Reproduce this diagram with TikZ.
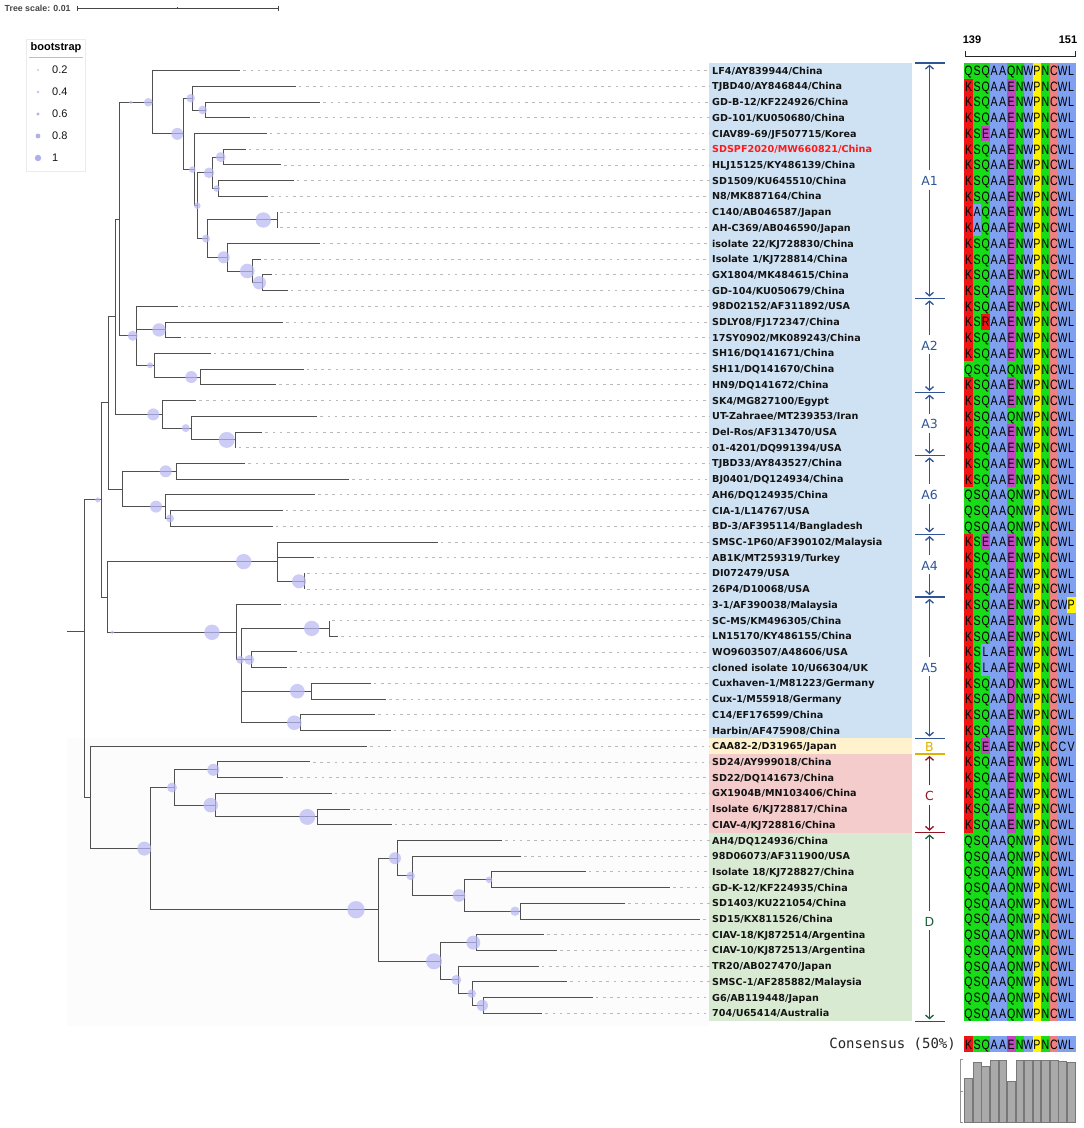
\documentclass[tikz,border=0pt]{standalone}
\usepackage{fontspec}
\setmainfont{Liberation Sans}
\newfontfamily\labfont{DejaVu Sans}
\newfontfamily\monofont{DejaVu Sans Mono}
\usetikzlibrary{arrows.meta}
\definecolor{brc}{RGB}{80,80,80}
\definecolor{dashc}{RGB}{185,185,185}
\definecolor{bootc}{RGB}{185,185,245}
\definecolor{legbc}{RGB}{175,175,235}
\definecolor{boxA}{RGB}{207,226,243}
\definecolor{boxB}{RGB}{255,242,204}
\definecolor{boxC}{RGB}{244,204,204}
\definecolor{boxD}{RGB}{217,234,211}
\definecolor{faintc}{RGB}{252,252,252}
\definecolor{cblue}{RGB}{47,85,151}
\definecolor{cgold}{RGB}{222,178,0}
\definecolor{cred}{RGB}{150,20,35}
\definecolor{cgreen}{RGB}{25,100,55}
\definecolor{labc}{RGB}{20,20,20}
\definecolor{redlab}{RGB}{255,25,25}
\definecolor{legline}{RGB}{190,190,190}
\definecolor{legbox}{RGB}{235,235,235}
\definecolor{scalec}{RGB}{70,70,70}
\definecolor{barf}{RGB}{170,170,170}
\definecolor{bard}{RGB}{120,120,120}
\definecolor{clrK}{RGB}{240,20,20}
\definecolor{clrR}{RGB}{240,20,20}
\definecolor{clrQ}{RGB}{25,220,25}
\definecolor{clrS}{RGB}{25,220,25}
\definecolor{clrN}{RGB}{25,220,25}
\definecolor{clrA}{RGB}{128,160,240}
\definecolor{clrL}{RGB}{128,160,240}
\definecolor{clrW}{RGB}{128,160,240}
\definecolor{clrV}{RGB}{128,160,240}
\definecolor{clrc}{RGB}{128,160,240}
\definecolor{clrE}{RGB}{192,72,192}
\definecolor{clrD}{RGB}{192,72,192}
\definecolor{clrP}{RGB}{255,245,0}
\definecolor{clrC}{RGB}{240,128,128}
\def\seqPa{Q,S,Q,A,A,Q,N,W,P,N,C,W,L}
\def\seqPb{K,S,Q,A,A,E,N,W,P,N,C,W,L}
\newcommand\ry[1]{70.7+(#1-1)*15.71}
\newcommand\leaf[4][labc]{%
  \coordinate (T#2) at (#3,{\ry{#2}});
  \node[lab,text=#1] (L#2) at (712,{\ry{#2}}) {#4};
  \draw[dashln] (T#2) -- (L#2.west);
}
\newcommand\edg[2]{\foreach \ee in {#2}{\draw[br] (#1) |- (\ee);}}
\newcommand\seqat[2]{%
  \edef\seqlist{#2}%
  \foreach \aach [count=\k] in \seqlist {%
    \fill[fill=clr\aach] ({964.3+(\k-1)*8.54},{#1-7.855}) rectangle ({964.3+\k*8.54+0.25},{#1+7.9});
    \node[aa] at ({964.3+(\k-0.5)*8.54},{#1}) {\scalebox{0.78}[1]{\expandafter\uppercase\expandafter{\aach}}};
  }}
\newcommand\cladearr[5]{%
  \node[cl,text=#1] (c#5) at (929.5,#4) {#5};
  \coordinate (ct#5) at (929.5,{#2+1.8});
  \coordinate (cb#5) at (929.5,{#3-1.8});
  \draw[#1,cladeln,shorten <=6pt,-{Straight Barb[length=3.5pt,width=8pt]}] (c#5.north) -- (ct#5);
  \draw[#1,cladeln,shorten <=4pt,-{Straight Barb[length=3.5pt,width=8pt]}] (c#5.south) -- (cb#5);
  \draw[#1,cladeln] (915,#3) -- (944.5,#3);
}
\begin{document}
\begin{tikzpicture}[x=1pt,y=-1pt,
  br/.style={draw=brc,line width=1pt},
  boot/.style={fill=bootc,fill opacity=0.72},
  dashln/.style={draw=dashc,line width=0.9pt,dash pattern=on 2.6pt off 4.6pt,shorten <=3pt,shorten >=2.5pt},
  lab/.style={anchor=west,inner sep=0pt,font=\labfont\bfseries\fontsize{9.6}{11}\selectfont,text height=8pt,text depth=1pt},
  aa/.style={inner sep=0pt,font=\fontsize{13.6}{14}\selectfont,text height=9.7pt,text depth=0pt},
  cl/.style={inner sep=0pt,font=\labfont\fontsize{12.5}{13}\selectfont,text height=9pt,text depth=0pt},
  cladeln/.style={line width=1.3pt},
]
\useasboundingbox (0,0) rectangle (1084,1128);
\fill[white] (0,0) rectangle (1084,1128);
% backgrounds
\fill[faintc] (67,738.4) rectangle (709.3,1026);
\fill[boxA] (709.3,62.85) rectangle (912,738.4);
\fill[boxB] (709.3,738.4) rectangle (912,754.1);
\fill[boxC] (709.3,754.1) rectangle (912,832.6);
\fill[boxD] (709.3,832.6) rectangle (912,1021.2);
% tree scale
\node[anchor=west,inner sep=0pt,text=scalec,font=\bfseries\fontsize{8.8}{9}\selectfont] (tsc) at (4.5,8) {Tree scale: 0.01};
\draw[scalec,line width=0.8pt] (77.7,8) -- (278.3,8);
\draw[scalec,line width=0.8pt] (77.7,5.5) -- (77.7,10.5) (278.3,5.5) -- (278.3,10.5) (177.7,7) -- (177.7,9);
% legend
\draw[draw=legbox,fill=white,line width=0.6pt] (26.7,39.3) rectangle (85,171.7);
\node[inner sep=0pt,font=\bfseries\fontsize{11}{12}\selectfont] (legt) at (56,48) {bootstrap};
\draw[legline,line width=1.3pt] (29,57.3) -- (83,57.3);
\foreach \v/\yy/\rr in {0.2/70/0.8,0.4/92/1.2,0.6/114/1.7,0.8/136/2.4,1/158/3.2}{
  \fill[legbc] (38,\yy) circle[radius=\rr];
  \node[anchor=west,inner sep=0pt,font=\fontsize{11}{12}\selectfont,text=labc] at (52,\yy) {\v};
}
% leaves
\leaf{1}{240.3}{LF4/AY839944/China}
\leaf{2}{295.7}{TJBD40/AY846844/China}
\leaf{3}{320.3}{GD-B-12/KF224926/China}
\leaf{4}{250.3}{GD-101/KU050680/China}
\leaf{5}{266.7}{CIAV89-69/JF507715/Korea}
\leaf[redlab]{6}{245.7}{SDSPF2020/MW660821/China}
\leaf{7}{281}{HLJ15125/KY486139/China}
\leaf{8}{293.7}{SD1509/KU645510/China}
\leaf{9}{268.3}{N8/MK887164/China}
\leaf{10}{277}{C140/AB046587/Japan}
\leaf{11}{277}{AH-C369/AB046590/Japan}
\leaf{12}{319.7}{isolate 22/KJ728830/China}
\leaf{13}{261}{Isolate 1/KJ728814/China}
\leaf{14}{271.7}{GX1804/MK484615/China}
\leaf{15}{287.7}{GD-104/KU050679/China}
\leaf{16}{178}{98D02152/AF311892/USA}
\leaf{17}{283.3}{SDLY08/FJ172347/China}
\leaf{18}{180.7}{17SY0902/MK089243/China}
\leaf{19}{210.7}{SH16/DQ141671/China}
\leaf{20}{303.7}{SH11/DQ141670/China}
\leaf{21}{276}{HN9/DQ141672/China}
\leaf{22}{196}{SK4/MG827100/Egypt}
\leaf{23}{317.3}{UT-Zahraee/MT239353/Iran}
\leaf{24}{262.3}{Del-Ros/AF313470/USA}
\leaf{25}{235.7}{01-4201/DQ991394/USA}
\leaf{26}{245.3}{TJBD33/AY843527/China}
\leaf{27}{349}{BJ0401/DQ124934/China}
\leaf{28}{315}{AH6/DQ124935/China}
\leaf{29}{282.7}{CIA-1/L14767/USA}
\leaf{30}{272.7}{BD-3/AF395114/Bangladesh}
\leaf{31}{437.7}{SMSC-1P60/AF390102/Malaysia}
\leaf{32}{314}{AB1K/MT259319/Turkey}
\leaf{33}{304.3}{DI072479/USA}
\leaf{34}{304.3}{26P4/D10068/USA}
\leaf{35}{281}{3-1/AF390038/Malaysia}
\leaf{36}{329.3}{SC-MS/KM496305/China}
\leaf{37}{338.3}{LN15170/KY486155/China}
\leaf{38}{296.7}{WO9603507/A48606/USA}
\leaf{39}{286.7}{cloned isolate 10/U66304/UK}
\leaf{40}{370.7}{Cuxhaven-1/M81223/Germany}
\leaf{41}{386}{Cux-1/M55918/Germany}
\leaf{42}{375.3}{C14/EF176599/China}
\leaf{43}{390.7}{Harbin/AF475908/China}
\leaf{44}{367.3}{CAA82-2/D31965/Japan}
\leaf{45}{310}{SD24/AY999018/China}
\leaf{46}{282.7}{SD22/DQ141673/China}
\leaf{47}{331.7}{GX1904B/MN103406/China}
\leaf{48}{350}{Isolate 6/KJ728817/China}
\leaf{49}{391.7}{CIAV-4/KJ728816/China}
\leaf{50}{502.3}{AH4/DQ124936/China}
\leaf{51}{521}{98D06073/AF311900/USA}
\leaf{52}{585.7}{Isolate 18/KJ728827/China}
\leaf{53}{670}{GD-K-12/KF224935/China}
\leaf{54}{625}{SD1403/KU221054/China}
\leaf{55}{700}{SD15/KX811526/China}
\leaf{56}{544}{CIAV-18/KJ872514/Argentina}
\leaf{57}{557}{CIAV-10/KJ872513/Argentina}
\leaf{58}{538.7}{TR20/AB027470/Japan}
\leaf{59}{567.3}{SMSC-1/AF285882/Malaysia}
\leaf{60}{592.7}{G6/AB119448/Japan}
\leaf{61}{542.3}{704/U65414/Australia}
% internal nodes
\coordinate (root) at (67.3,631);
\coordinate (n0) at (84.3,631);
\coordinate (nA) at (101,499.9);
\coordinate (nAx) at (108.3,402.9);
\coordinate (n123) at (115,316.7);
\coordinate (n12) at (119.3,219.05);
\coordinate (nA1) at (152.3,102.3);
\coordinate (nb) at (183.3,133.9);
\coordinate (nc) at (192.3,98.2);
\coordinate (nd) at (205.7,110);
\coordinate (nq) at (194,169.6);
\coordinate (nr) at (197.3,205.7);
\coordinate (ns) at (212.3,172.8);
\coordinate (ns1) at (223.3,157.1);
\coordinate (ns2) at (218.7,188.5);
\coordinate (nt) at (207.7,238.6);
\coordinate (nt1) at (277,219.95);
\coordinate (nt2) at (227.7,257.3);
\coordinate (nu) at (252.3,271);
\coordinate (nv) at (262,282.8);
\coordinate (nA2) at (136,335.8);
\coordinate (nw) at (165,329.9);
\coordinate (nx) at (154.3,365.3);
\coordinate (ny) at (200.7,377.05);
\coordinate (nA3) at (162.3,414.4);
\coordinate (nz) at (191.7,428.1);
\coordinate (nzz) at (235.7,439.9);
\coordinate (nA6) at (122,489);
\coordinate (n6a) at (176.7,471.3);
\coordinate (n6b) at (165,506.6);
\coordinate (n6c) at (170.7,518.4);
\coordinate (nA45) at (107,597);
\coordinate (nA4) at (277.7,561.6);
\coordinate (n4b) at (304.3,581.3);
\coordinate (nA5) at (236.3,632.3);
\coordinate (n5b) at (241.3,659.8);
\coordinate (n5c) at (329.3,628.4);
\coordinate (n5d) at (251.7,659.8);
\coordinate (n5e) at (311.7,691.2);
\coordinate (n5f) at (300.7,722.7);
\coordinate (nBCD) at (90.7,797.4);
\coordinate (nCD) at (150.7,848.6);
\coordinate (nC) at (174.3,787.5);
\coordinate (nC1) at (217.7,769.8);
\coordinate (nC2) at (215,805.1);
\coordinate (nC3) at (317.7,816.9);
\coordinate (nD) at (378.7,909.7);
\coordinate (nD1) at (397,858.2);
\coordinate (nD3) at (412.7,875.9);
\coordinate (nD4) at (464.3,895.5);
\coordinate (nD5) at (491.7,879.8);
\coordinate (nD6) at (520.3,911.2);
\coordinate (nD2) at (440.7,961.3);
\coordinate (nD7) at (476.7,942.6);
\coordinate (nD8) at (458.7,979.9);
\coordinate (nD9) at (472.7,993.6);
\coordinate (nD10) at (483.3,1005.4);
% edges
\draw[br] (root) -- (n0);
\edg{n0}{nA,nBCD}
\edg{nA}{nAx,nA45}
\edg{nAx}{n123,nA6}
\edg{n123}{n12,nA3}
\edg{n12}{nA1,nA2}
\edg{nA1}{T1,nb}
\edg{nb}{nc,nq}
\edg{nc}{T2,nd}
\edg{nd}{T3,T4}
\edg{nq}{T5,nr}
\edg{nr}{ns,nt}
\edg{ns}{ns1,ns2}
\edg{ns1}{T6,T7}
\edg{ns2}{T8,T9}
\edg{nt}{nt1,nt2}
\edg{nt1}{T10,T11}
\edg{nt2}{T12,nu}
\edg{nu}{T13,nv}
\edg{nv}{T14,T15}
\edg{nA2}{T16,nw,nx}
\edg{nw}{T17,T18}
\edg{nx}{T19,ny}
\edg{ny}{T20,T21}
\edg{nA3}{T22,nz}
\edg{nz}{T23,nzz}
\edg{nzz}{T24,T25}
\edg{nA6}{n6a,n6b}
\edg{n6a}{T26,T27}
\edg{n6b}{T28,n6c}
\edg{n6c}{T29,T30}
\edg{nA45}{nA4,nA5}
\edg{nA4}{T31,T32,n4b}
\edg{n4b}{T33,T34}
\edg{nA5}{T35,n5b}
\edg{n5b}{n5c,n5d,n5e,n5f}
\edg{n5c}{T36,T37}
\edg{n5d}{T38,T39}
\edg{n5e}{T40,T41}
\edg{n5f}{T42,T43}
\edg{nBCD}{T44,nCD}
\edg{nCD}{nC,nD}
\edg{nC}{nC1,nC2}
\edg{nC1}{T45,T46}
\edg{nC2}{T47,nC3}
\edg{nC3}{T48,T49}
\edg{nD}{nD1,nD2}
\edg{nD1}{T50,nD3}
\edg{nD3}{T51,nD4}
\edg{nD4}{nD5,nD6}
\edg{nD5}{T52,T53}
\edg{nD6}{T54,T55}
\edg{nD2}{nD7,nD8}
\edg{nD7}{T56,T57}
\edg{nD8}{T58,nD9}
\edg{nD9}{T59,nD10}
\edg{nD10}{T60,T61}
% bootstrap circles
\foreach \cx/\cy/\cr in {131/102.3/1.8,148.3/102.3/4.3,177.3/133.9/6,190.7/98.2/4.3,202.7/110/4.3,
  192.3/169.6/3.3,197.3/205.7/3.3,209/172.8/5.3,220.7/157.1/5,216.7/188.5/3.3,206/238.6/4,
  263.3/220/7.7,223.7/257.3/6,247.3/271/7.3,259.3/282.8/6.7,132.7/335.8/5,159/329.9/6.7,
  150/365.3/3,191.3/377/6,153.3/414.4/6,185.7/428.1/4,226.7/439.9/8,165.7/471.3/6,156/506.6/6,
  170/518.4/4,97.7/499.9/2.5,243.7/561.6/7.7,299/581.3/7,112.3/632.3/1.8,212/632.3/7.7,
  240.3/659.8/4,249.3/659.8/5,311.7/628.4/7.7,297.3/691.2/7.3,294.3/722.7/7.3,144.3/848.6/7,
  172/787.5/5,213.3/769.8/6,210.7/805.1/7.3,307.3/816.9/8,356/909.7/8.7,395/858.2/6,
  410.7/875.9/4.3,459/895.5/6.3,489/879.8/3.3,515/911.2/4.7,434/961.3/8,473.3/942.6/7,
  456.3/979.9/5,471.7/993.6/4.3,482.3/1005.4/5.7}{
  \fill[boot] (\cx,\cy) circle[radius=\cr];
}
% clade markers
\draw[cblue,cladeln] (915,62.85) -- (944.5,62.85);
\cladearr{cblue}{62.85}{298.5}{181}{A1}
\cladearr{cblue}{298.5}{392.8}{345.6}{A2}
\cladearr{cblue}{392.8}{455.6}{424.2}{A3}
\cladearr{cblue}{455.6}{534.2}{494.9}{A6}
\cladearr{cblue}{534.2}{597}{565.6}{A4}
\cladearr{cblue}{597}{738.4}{667.7}{A5}
\node[cl,text=cgold] (cB) at (929.5,746.5) {B};
\draw[cgold,cladeln] (915,754.1) -- (944.5,754.1);
\cladearr{cred}{754.1}{832.6}{796}{C}
\cladearr{cgreen}{832.6}{1021.2}{921.5}{D}
% alignment header
\node[inner sep=0pt,font=\bfseries\fontsize{11}{12}\selectfont] (h139) at (972,40) {139};
\node[inner sep=0pt,font=\bfseries\fontsize{11}{12}\selectfont] (h151) at (1068,40) {151};
\draw[black!85,line width=1pt] (965.7,50.5) -- (965.7,56) -- (1075,56) -- (1075,50.5);
% alignment rows
\foreach \r in {1,20,28,29,30,50,51,52,53,54,55,56,57,58,59,60,61}{\seqat{\ry{\r}}{\seqPa}}
\foreach \r in {2,3,4,6,7,8,9,12,13,14,15,16,18,19,21,22,24,25,26,27,32,33,34,36,37,42,43,45,46,47,48,49}{\seqat{\ry{\r}}{\seqPb}}
\seqat{\ry{5}}{K,S,E,A,A,E,N,W,P,N,C,W,L}
\seqat{\ry{10}}{K,A,Q,A,A,E,N,W,P,N,C,W,L}
\seqat{\ry{11}}{K,A,Q,A,A,E,N,W,P,N,C,W,L}
\seqat{\ry{17}}{K,S,R,A,A,E,N,W,P,N,C,W,L}
\seqat{\ry{23}}{K,S,Q,A,A,Q,N,W,P,N,C,W,L}
\seqat{\ry{31}}{K,S,E,A,A,E,N,W,P,N,C,W,L}
\seqat{\ry{35}}{K,S,Q,A,A,E,N,W,P,N,C,W,P}
\seqat{\ry{38}}{K,S,L,A,A,E,N,W,P,N,C,W,L}
\seqat{\ry{39}}{K,S,L,A,A,E,N,W,P,N,C,W,L}
\seqat{\ry{40}}{K,S,Q,A,A,D,N,W,P,N,C,W,L}
\seqat{\ry{41}}{K,S,Q,A,A,D,N,W,P,N,C,W,L}
\seqat{\ry{44}}{K,S,E,A,A,E,N,W,P,N,C,c,V}
% consensus
\node[anchor=east,inner sep=0pt,font=\monofont\fontsize{14}{14}\selectfont,text=black!85] (cons) at (956,1044.2) {Consensus (50\%)};
\seqat{1044.2}{\seqPb}
% conservation bars
\draw[bard!80,line width=0.8pt] (962.5,1059.5) -- (960,1059.5) -- (960,1122.7) -- (962.5,1122.7) (960,1091) -- (962.5,1091);
\foreach \k/\tp in {1/1078.3,2/1062.3,3/1066.7,4/1060,5/1060,6/1081.7,7/1060,8/1060,9/1060,10/1060,11/1060,12/1061.5,13/1062}{
  \filldraw[fill=barf,draw=bard,line width=0.6pt] ({964.3+(\k-1)*8.54+0.4},\tp) rectangle ({964.3+\k*8.54-0.4},1122.7);
}
\end{tikzpicture}
\end{document}
